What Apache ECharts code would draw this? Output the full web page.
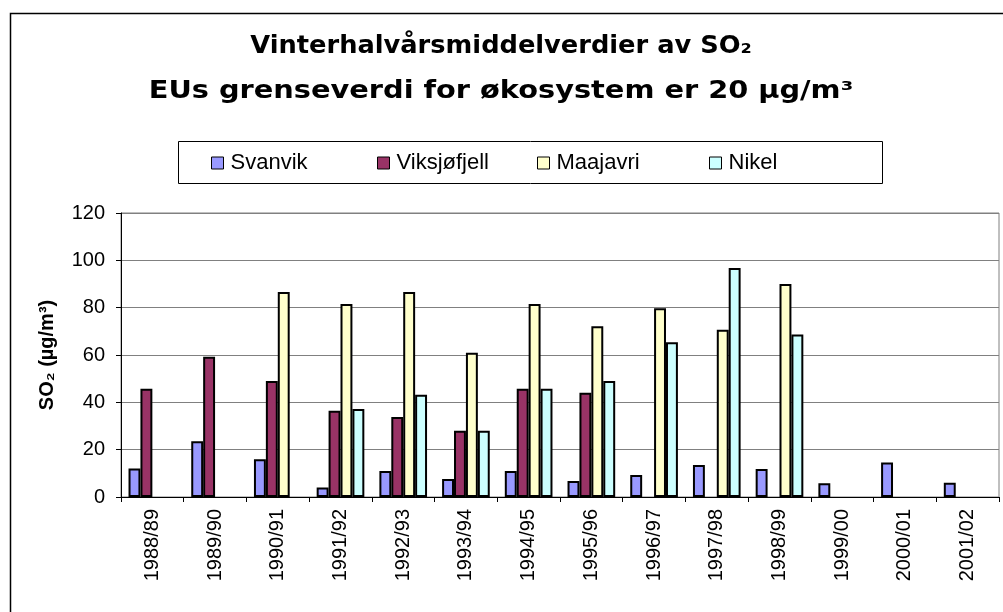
<!DOCTYPE html>
<html>
<head>
<meta charset="utf-8">
<script src="https://cdn.jsdelivr.net/npm/echarts@6/dist/echarts.min.js"></script>
<style>html,body{margin:0;padding:0;background:#fff}#c{width:1003px;height:612px}</style>
</head>
<body>
<div id="c"></div>
<script>
const categories = ['1988/89','1989/90','1990/91','1991/92','1992/93','1993/94','1994/95','1995/96','1996/97','1997/98','1998/99','1999/00','2000/01','2001/02'];
const svanvik    = [12, 23.6, 16, 4, 11, 7.6, 11, 6.8, 9.3, 13.5, 11.8, 5.8, 14.6, 6];
const viksjofjell = [45.7, 59.3, 49, 36.4, 33.8, 28, 45.7, 44, null, null, null, null, null, null];
const maajavri   = [null, null, 86.6, 81.5, 86.6, 61, 81.5, 72.2, 79.8, 70.7, 90, null, null, null];
const nikel      = [null, null, null, 37.2, 43.2, 28, 45.7, 49, 65.4, 96.8, 68.7, null, null, null];
const yTicks = [0, 20, 40, 60, 80, 100, 120];
const titleLines = ['Vinterhalvårsmiddelverdier av SO₂', 'EUs grenseverdi for økosystem er 20 µg/m³'];

const FONT = '"Liberation Sans", Arial, sans-serif';
const TFONT = '"DejaVu Sans", "Liberation Sans", sans-serif';
const names = ['Svanvik', 'Viksjøfjell', 'Maajavri', 'Nikel'];
const colors = ['#9999FF', '#993366', '#FFFFCC', '#CCFFFF'];
const datas = [svanvik, viksjofjell, maajavri, nikel];
const legendLeft = [206, 372, 532, 704];

const chart = echarts.init(document.getElementById('c'));
chart.setOption({
  animation: false,
  graphic: [
    {type: 'rect', left: 8, top: 11, shape: {x: 0, y: 0, width: 1020, height: 700},
     style: {fill: 'none', stroke: '#000', lineWidth: 1.5}, silent: true},
    {type: 'rect', left: 176, top: 139, shape: {x: 0, y: 0, width: 704, height: 42},
     style: {fill: 'none', stroke: '#000', lineWidth: 1}, silent: true},
    {type: 'text', x: 501, y: 47, scaleX: 1.07,
     style: {text: titleLines[0], fontFamily: TFONT, fontWeight: 'bold', fontSize: 24, fill: '#000',
             textAlign: 'center', textVerticalAlign: 'middle'}},
    {type: 'text', x: 501, y: 92, scaleX: 1.2,
     style: {text: titleLines[1], fontFamily: TFONT, fontWeight: 'bold', fontSize: 24, fill: '#000',
             textAlign: 'center', textVerticalAlign: 'middle'}}
  ],
  legend: names.map((n, i) => ({
    data: [n], left: legendLeft[i], top: 147, itemWidth: 12, itemHeight: 12, itemGap: 0,
    icon: 'rect',
    itemStyle: {borderColor: '#000', borderWidth: 1},
    textStyle: {fontFamily: FONT, fontSize: 22, color: '#000', padding: [0, 0, 0, 2]}
  })),
  grid: {left: 121, right: 4, top: 213, bottom: 115, show: true, borderColor: '#808080', borderWidth: 1},
  xAxis: {
    type: 'category', data: categories,
    axisLine: {lineStyle: {color: '#000', width: 1}},
    axisTick: {show: true, length: 5, lineStyle: {color: '#000'}},
    axisLabel: {rotate: 90, fontFamily: FONT, fontSize: 20, color: '#000', margin: 12, interval: 0}
  },
  yAxis: {
    type: 'value', min: yTicks[0], max: yTicks[yTicks.length - 1], interval: 20,
    name: 'SO₂ (µg/m³)', nameLocation: 'middle', nameRotate: 90, nameGap: 64,
    nameTextStyle: {fontFamily: FONT, fontWeight: 'bold', fontSize: 20, color: '#000'},
    axisLine: {show: true, lineStyle: {color: '#000', width: 1}},
    axisTick: {show: true, length: 5, lineStyle: {color: '#000'}},
    axisLabel: {fontFamily: FONT, fontSize: 20, color: '#000', margin: 16},
    splitLine: {lineStyle: {color: '#808080', width: 1}}
  },
  series: names.map((n, i) => ({
    name: n, type: 'bar', data: datas[i],
    barGap: '0%', barCategoryGap: '24%',
    itemStyle: {color: colors[i], borderColor: '#000', borderWidth: 2}
  }))
});
</script>
</body>
</html>
